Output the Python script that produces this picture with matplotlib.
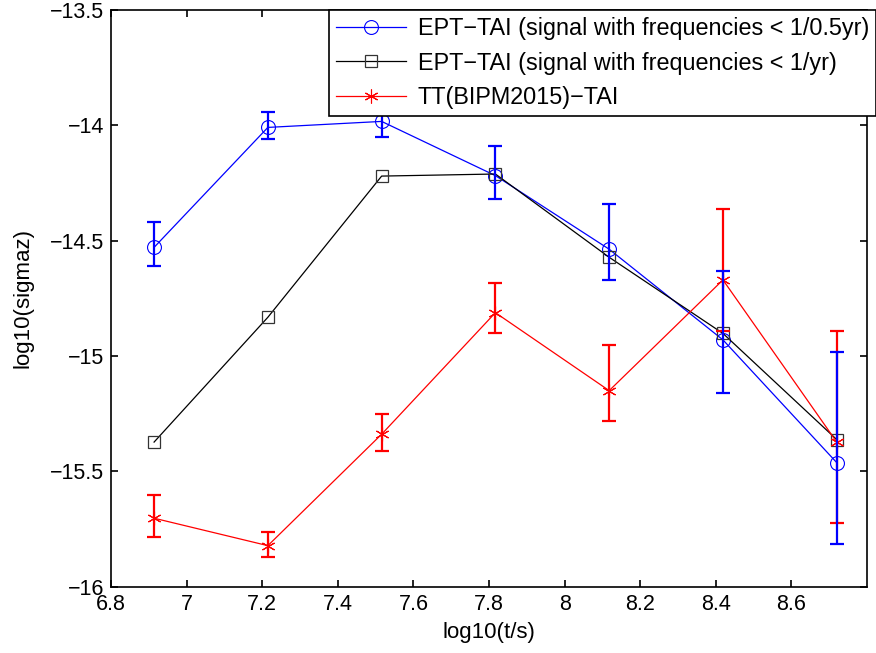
import numpy as np
import matplotlib
matplotlib.use("Agg")
import matplotlib.pyplot as plt

plt.rcParams['font.family'] = ['Liberation Sans', 'DejaVu Sans']

# averaging times, log10(t/s)
log_t = [6.914, 7.215, 7.516, 7.817, 8.118, 8.419, 8.720]

# EPT-TAI, frequencies < 1/0.5yr
ept_half = [-14.529, -14.009, -13.983, -14.218, -14.537, -14.930, -15.462]
ept_half_hi = [-14.419, -13.942, -13.942, -14.090, -14.341, -14.631, -14.981]
ept_half_lo = [-14.608, -14.059, -14.049, -14.318, -14.670, -15.159, -15.815]

# EPT-TAI, frequencies < 1/yr
ept_year = [-15.373, -14.832, -14.220, -14.211, -14.572, -14.902, -15.362]

# TT(BIPM2015)-TAI
tt = [-15.703, -15.822, -15.339, -14.812, -15.150, -14.670, -15.373]
tt_hi = [-15.602, -15.763, -15.250, -14.682, -14.952, -14.361, -14.890]
tt_lo = [-15.783, -15.870, -15.410, -14.899, -15.282, -14.890, -15.722]

xticks = [6.8, 7.0, 7.2, 7.4, 7.6, 7.8, 8.0, 8.2, 8.4, 8.6]
xticklabels = ['6.8', '7', '7.2', '7.4', '7.6', '7.8', '8', '8.2', '8.4', '8.6']
yticks = [-16, -15.5, -15, -14.5, -14, -13.5]
yticklabels = ['\u221216', '\u221215.5', '\u221215', '\u221214.5', '\u221214', '\u221213.5']

fig = plt.figure(figsize=(8.76, 6.53), dpi=100)
ax = fig.add_axes([0.1267, 0.1015, 0.8630, 0.8832])

asterisk = (6, 2, 0)

def err(y, hi, lo):
    y, hi, lo = np.array(y), np.array(hi), np.array(lo)
    return [y - lo, hi - y]

# data lines with markers
ax.plot(log_t, ept_half, color='blue', lw=0.9, marker='o', ms=10, mfc='none',
        mec='blue', mew=0.8, label='EPT\u2212TAI (signal with frequencies < 1/0.5yr)')
ax.plot(log_t, ept_year, color='black', lw=0.9, marker='s', ms=8, mfc='none',
        mec='#333333', mew=0.9, label='EPT\u2212TAI (signal with frequencies < 1/yr)')
ax.plot(log_t, tt, color='red', lw=0.9, marker=asterisk, ms=10, mec='red',
        mew=0.8, label='TT(BIPM2015)\u2212TAI')

# error bars
ax.errorbar(log_t, tt, yerr=err(tt, tt_hi, tt_lo), fmt='none', ecolor='red',
            elinewidth=1.6, capsize=5, capthick=1.6)
ax.errorbar(log_t, ept_half, yerr=err(ept_half, ept_half_hi, ept_half_lo), fmt='none',
            ecolor='blue', elinewidth=1.6, capsize=5, capthick=1.6)

ax.set_xlim(6.8, 8.8)
ax.set_ylim(-16, -13.5)
ax.set_xticks(xticks)
ax.set_xticklabels(xticklabels)
ax.set_yticks(yticks)
ax.set_yticklabels(yticklabels)
ax.tick_params(direction='in', top=True, right=True, labelsize=15.5, length=5, width=1.2)
ax.tick_params(axis='x', pad=5)
ax.tick_params(axis='y', pad=5)
for s in ax.spines.values():
    s.set_linewidth(1.2)

ax.set_xlabel('log10(t/s)', fontsize=16)
ax.set_ylabel('log10(sigmaz)', fontsize=16)
ax.xaxis.set_label_coords(0.5, -0.062)
ax.yaxis.set_label_coords(-0.103, 0.5)

leg = ax.legend(loc='upper right', bbox_to_anchor=(1.0, 1 - 10 / 653),
                bbox_transform=fig.transFigure, fontsize=16.8, fancybox=False,
                framealpha=1, edgecolor='black', handlelength=3.0,
                borderpad=0.3, labelspacing=0.5, handletextpad=0.5, borderaxespad=0)
leg.get_frame().set_linewidth(1.2)
leg.set_zorder(10)

fig.savefig('out.png', dpi=100)
